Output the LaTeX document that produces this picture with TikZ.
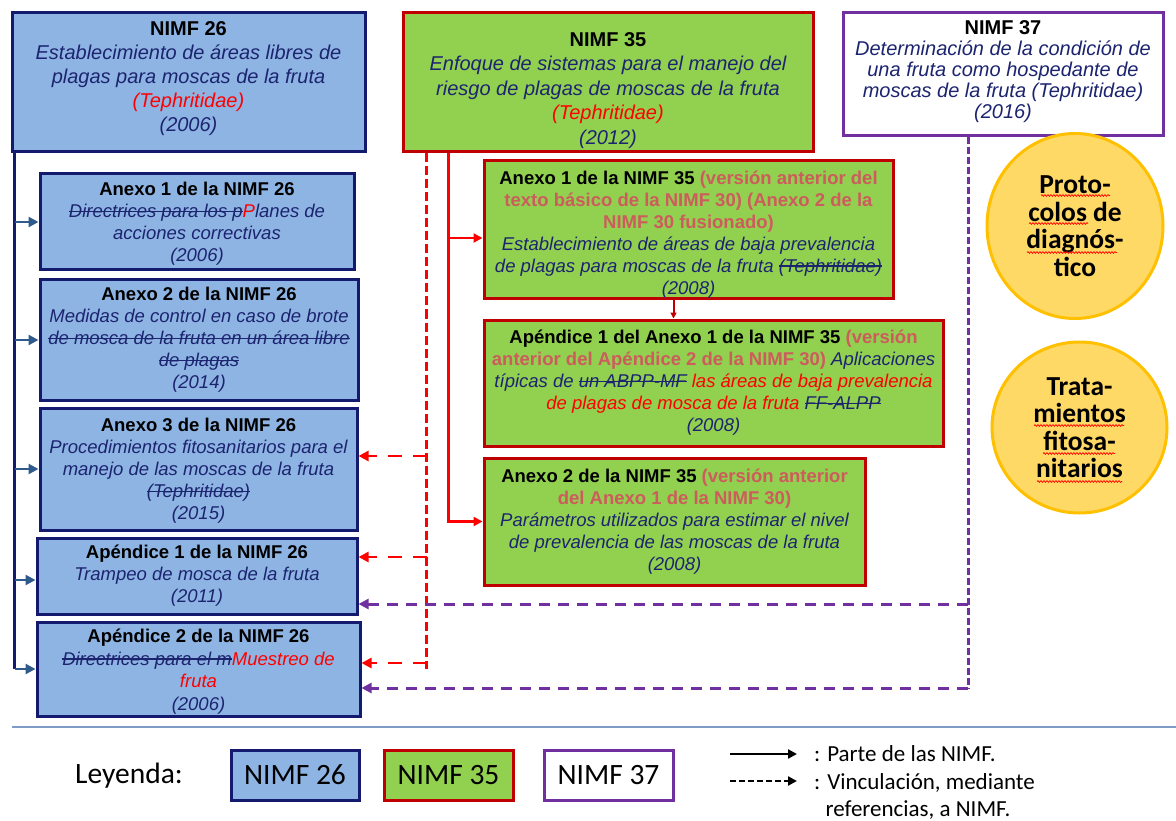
\documentclass[tikz,border=0pt]{standalone}
\usepackage{fontspec}
\setmainfont{Liberation Sans}
\newfontfamily\calfont{Carlito}
\usetikzlibrary{arrows.meta,shapes.geometric,decorations.pathmorphing}

\definecolor{fill26}{HTML}{8EB4E3}
\definecolor{line26}{HTML}{141A6E}
\definecolor{fill35}{HTML}{92D050}
\definecolor{line35}{HTML}{C00000}
\definecolor{line37}{HTML}{7030A0}
\definecolor{txtnavy}{HTML}{1C2470}
\definecolor{prevred}{HTML}{CD5C5C}
\definecolor{arrblue}{HTML}{2F5B8C}
\definecolor{circfill}{HTML}{FFD966}
\definecolor{circline}{HTML}{FFC000}
\definecolor{sepblue}{HTML}{7F9CC6}

\newcommand\topfont{\fontsize{20}{24}\selectfont}
\newcommand\subfont{\fontsize{18.5}{22}\selectfont}
\newcommand\legfont{\calfont\fontsize{29.5}{32}\selectfont}
\newcommand\keyfont{\calfont\fontsize{23}{27}\selectfont}
\newcommand\titulo[1]{{\upshape\bfseries\color{black}#1}}
\newcommand\antes[1]{{\upshape\bfseries\color{prevred}#1}}
\newcommand\nuevo[1]{{\color{red}#1}}
\newcommand\topgap[1]{\rule{0pt}{#1}}
\newcommand\botgap[1]{\rule[-#1]{0pt}{0pt}}
\newsavebox\tachbox
\newcommand\tachado[1]{\sbox\tachbox{#1}\rlap{\usebox\tachbox}\rule[0.3em]{\wd\tachbox}{0.07em}}

\tikzset{
  box26/.style={draw=line26, fill=fill26, line width=3pt, align=center, inner sep=0pt, text=txtnavy},
  box35/.style={draw=line35, fill=fill35, line width=3pt, align=center, inner sep=0pt, text=txtnavy},
  box37/.style={draw=line37, fill=white, line width=3pt, align=center, inner sep=0pt, text=txtnavy},
  circ/.style={ellipse, draw=circline, fill=circfill, line width=3pt, align=center, inner sep=0pt,
    font=\calfont\bfseries\fontsize{27.5}{27.5}\selectfont},
  spellmark/.style={draw=red, line width=0.7pt, decorate, decoration={snake, amplitude=0.9pt, segment length=3pt}},
  navyline/.style={draw=line26, line width=2.5pt},
  bluearrow/.style={draw=arrblue, line width=2.5pt, -{Triangle[length=10pt,width=10pt]}},
  redpart/.style={draw=red, line width=2.5pt, -{Triangle[length=9pt,width=9pt]}},
  redvert/.style={draw=red, line width=2.5pt, dash pattern=on 9pt off 4pt},
  redref/.style={draw=red, line width=2.5pt, dash pattern=on 14pt off 11pt, -{Triangle[length=10pt,width=10pt]}},
  purpvert/.style={draw=line37, line width=3pt, dash pattern=on 7pt off 3pt},
  purpref/.style={draw=line37, line width=3pt, dash pattern=on 11pt off 8pt, -{Triangle[length=10pt,width=10pt]}}
}

\begin{document}
\begin{tikzpicture}[x=1pt,y=-1pt]
\useasboundingbox (0,0) rectangle (1176,821);

\node[box26, minimum width=353pt, minimum height=139pt, font=\topfont\itshape] (n26) at (188.5,82.5)
  {\titulo{NIMF 26}\\ Establecimiento de áreas libres de\\ plagas para moscas de la fruta\\ \nuevo{(Tephritidae)}\\ (2006)\botgap{12pt}};
\node[box26, minimum width=314pt, minimum height=96pt, font=\subfont\itshape] (an1) at (197,222)
  {\titulo{Anexo 1 de la NIMF 26}\topgap{17pt}\\ \tachado{Directrices para los p}\nuevo{P}lanes de\\ acciones correctivas\\ (2006)};
\node[box26, minimum width=318pt, minimum height=120pt, font=\subfont\itshape] (an2) at (199,340)
  {\titulo{Anexo 2 de la NIMF 26}\\ Medidas de control en caso de brote\\ \tachado{de mosca de la fruta en un área libre}\\ \tachado{de plagas}\\ (2014)};
\node[box26, minimum width=317pt, minimum height=122pt, font=\subfont\itshape] (an3) at (198.5,469)
  {\titulo{Anexo 3 de la NIMF 26}\topgap{17pt}\\ Procedimientos fitosanitarios para el\\ manejo de las moscas de la fruta\\ \tachado{(Tephritidae)}\\ (2015)};
\node[box26, minimum width=320pt, minimum height=76pt, font=\subfont\itshape] (ap1) at (197,576)
  {\titulo{Apéndice 1 de la NIMF 26}\\ Trampeo de mosca de la fruta\\ (2011)};
\node[box26, minimum width=323pt, minimum height=94pt, font=\fontsize{18.5}{22.5}\selectfont\itshape] (ap2) at (198.5,669)
  {\titulo{Apéndice 2 de la NIMF 26}\topgap{19pt}\\ \tachado{Directrices para el m}\nuevo{Muestreo de}\\ \nuevo{fruta}\\ (2006)};

\node[box35, minimum width=410pt, minimum height=139pt, font=\fontsize{20}{24.5}\selectfont\itshape] (n35) at (608,82.5)
  {\titulo{NIMF 35}\topgap{30pt}\\ Enfoque de sistemas para el manejo del\\ riesgo de plagas de moscas de la fruta\\ \nuevo{(Tephritidae)}\\ (2012)};
\node[box35, minimum width=409pt, minimum height=138pt, font=\subfont\itshape] (m1) at (688.5,230)
  {\titulo{Anexo 1 de la NIMF 35} \antes{(versión anterior del}\topgap{22pt}\\ \antes{texto básico de la NIMF 30) (Anexo 2 de la}\\ \antes{NIMF 30 fusionado)}\\ Establecimiento de áreas de baja prevalencia\\ de plagas para moscas de la fruta \tachado{(Tephritidae)}\\ (2008)};
\node[box35, minimum width=459pt, minimum height=126pt, font=\subfont\itshape] (m2) at (713.5,383)
  {\titulo{Apéndice 1 del Anexo 1 de la NIMF 35} \antes{(versión}\\ \antes{anterior del Apéndice 2 de la NIMF 30)} Aplicaciones\\ típicas de \tachado{un ABPP-MF} \nuevo{las áreas de baja prevalencia}\\ \nuevo{de plagas de mosca de la fruta} \tachado{FF-ALPP}\\ (2008)};
\node[box35, minimum width=381pt, minimum height=127pt, font=\subfont\itshape] (m3) at (674.5,521.5)
  {\titulo{Anexo 2 de la NIMF 35} \antes{(versión anterior}\\ \antes{del Anexo 1 de la NIMF 30)}\\ Parámetros utilizados para estimar el nivel\\ de prevalencia de las moscas de la fruta\\ (2008)};

\node[box37, minimum width=320pt, minimum height=123pt, font=\fontsize{20}{21}\selectfont\itshape] (n37) at (1003,74.5)
  {\titulo{NIMF 37}\\ Determinación de la condición de\\ una fruta como hospedante de\\ moscas de la fruta (Tephritidae)\\ (2016)\botgap{10pt}};

\node[circ, minimum width=176pt, minimum height=185pt] (c1) at (1075,226)
  {Proto-\\ colos de\\ diagnós-\\ tico};
\node[circ, minimum width=175pt, minimum height=171pt] (c2) at (1079.5,427.5)
  {Trata-\\ mientos\\ fitosa-\\ nitarios};
\draw[spellmark] ([shift={(-34pt,30.5pt)}]c1.center) -- ++(69,0);
\draw[spellmark] ([shift={(-46pt,2.5pt)}]c1.center) -- ++(59,0);
\draw[spellmark] ([shift={(-48pt,-26.5pt)}]c1.center) -- ++(90,0);
\draw[spellmark] ([shift={(-45.5pt,2pt)}]c2.center) -- ++(90,0);
\draw[spellmark] ([shift={(-36.5pt,-26pt)}]c2.center) -- ++(72,0);
\draw[spellmark] ([shift={(-42.5pt,-54pt)}]c2.center) -- ++(85,0);

\coordinate (lt) at ([xshift=4pt]n26.south west);
\draw[navyline] (lt) -- (lt |- ap2.west);
\draw[bluearrow] (lt |- an1.west) -- (an1.west);
\draw[bluearrow] (lt |- an2.west) -- (an2.west);
\draw[bluearrow] (lt |- an3.west) -- (an3.west);
\draw[bluearrow] ([yshift=-4pt]lt |- ap1.west) -- ([yshift=-4pt]ap1.west);
\draw[bluearrow] (lt |- ap2.west) -- (ap2.west);

\coordinate (rt) at ([xshift=47pt]n35.south west);
\coordinate (b1) at ([yshift=-8pt]m1.west);
\draw[redpart] (rt) |- (m3.west);
\draw[redpart] (rt |- b1) -- (b1);
\coordinate (d1) at ([xshift=-15pt]m1.south);
\draw[redpart, draw=line35, line width=2pt, -{Triangle[length=6pt,width=6pt]}] (d1) -- (d1 |- m2.north);

\coordinate (rd) at ([xshift=25pt]n35.south west);
\coordinate (r1) at ([yshift=13pt]an3.east);
\coordinate (r2) at ([yshift=19pt]ap1.east);
\coordinate (r3) at ([yshift=6pt]ap2.east);
\draw[redvert] (rd) -- (rd |- ap2.east);
\draw[redref] (rd |- r1) -- (r1);
\draw[redref] (rd |- r2) -- (r2);
\draw[redref] (rd |- r3) -- (r3);

\coordinate (pd) at ([xshift=-35pt]n37.south);
\coordinate (p1) at ([yshift=-28pt]ap1.east);
\coordinate (p2) at ([yshift=-19pt]ap2.east);
\draw[purpvert] (pd) -- (pd |- p2);
\draw[purpref] (pd |- p1) -- (p1);
\draw[purpref] (pd |- p2) -- (p2);

\draw[sepblue, line width=1.5pt] (12,727) -- (1176,727);

\node[font=\legfont] (ley) at (129,776) {Leyenda:};
\node[box26, minimum width=128pt, minimum height=50pt, font=\legfont, text=black] (l26) at (295,775) {NIMF 26};
\node[box35, minimum width=129pt, minimum height=50pt, font=\legfont, text=black] (l35) at (448.5,775) {NIMF 35};
\node[box37, minimum width=129pt, minimum height=50pt, font=\legfont, text=black] (l37) at (608.5,775) {NIMF 37};

\node[anchor=west, inner sep=0pt, font=\keyfont] (k1) at (814,754) {: Parte de las NIMF.};
\node[anchor=west, inner sep=0pt, align=left, font=\keyfont] (k2) at (814,796.5)
  {: Vinculación, mediante\\ \hphantom{:\ }referencias, a NIMF.};
\draw[line width=2.5pt, -{Triangle[length=9pt,width=9pt]}] ([xshift=-84pt]k1.west) -- ([xshift=-17pt]k1.west);
\draw[line width=2.5pt, dash pattern=on 6pt off 3pt, -{Triangle[length=9pt,width=9pt]}]
  ([shift={(-84pt,15.5pt)}]k2.west) -- ([shift={(-17pt,15.5pt)}]k2.west);
\end{tikzpicture}
\end{document}
